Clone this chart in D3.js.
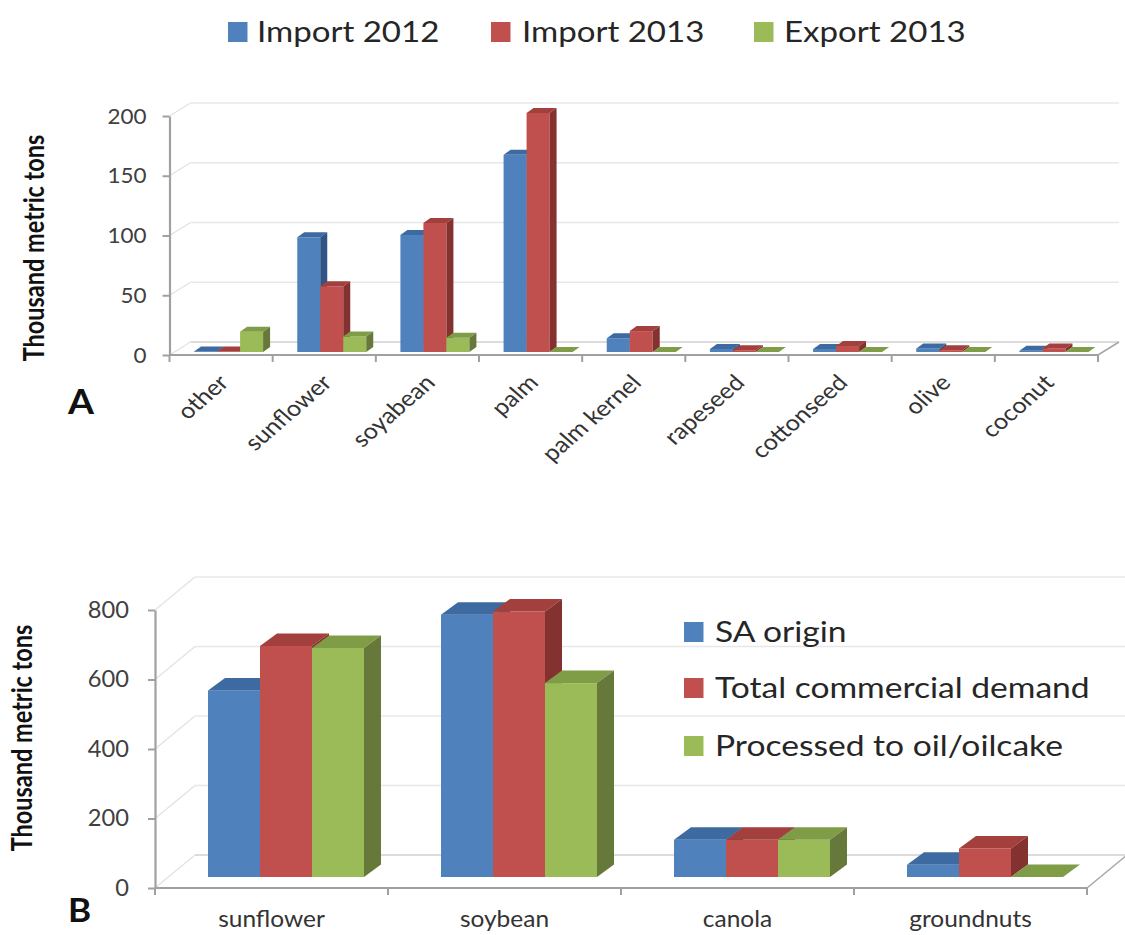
<!DOCTYPE html>
<html>
<head>
<meta charset="utf-8">
<script src="https://cdn.jsdelivr.net/npm/d3@7"></script>
<style>
  body { margin: 0; background: #fff; }
</style>
</head>
<body>
<svg id="chart" width="1125" height="935"></svg>
<script>
// ---- Panel A: vegetable oil trade (thousand metric tons) ----
const oilTypes   = ["other", "sunflower", "soyabean", "palm", "palm kernel", "rapeseed", "cottonseed", "olive", "coconut"];
const import2012 = [0.5, 96, 98, 165, 11.5, 2.5, 2.5, 3, 1];
const import2013 = [0.5, 55, 108, 200, 17.5, 1.5, 5, 1.5, 3];
const export2013 = [17, 13, 12, 0, 0, 0, 0, 0, 0];
const seriesA    = ["Import 2012", "Import 2013", "Export 2013"];
const ticksA     = [0, 50, 100, 150, 200];

// ---- Panel B: oilseed supply and use (thousand metric tons) ----
const seedTypes   = ["sunflower", "soybean", "canola", "groundnuts"];
const saOrigin    = [537, 755, 107, 35];
const totalDemand = [665, 764, 107, 82];
const processed   = [659, 558, 107, 0];
const seriesB     = ["SA origin", "Total commercial demand", "Processed to oil/oilcake"];
const ticksB      = [0, 200, 400, 600, 800];

const yTitle = "Thousand  metric tons";

const svg = d3.select("#chart");
svg.append("rect").attr("width", 1125).attr("height", 935).attr("fill", "#fff");

// front / top / side shades of each series colour
const shades = [
  { front: "#4F81BD", top: "#3D6AA1", side: "#2E5585" },
  { front: "#C0504D", top: "#A33F3C", side: "#843230" },
  { front: "#9BBB59", top: "#7F9C46", side: "#66793A" }
];
const FONT = "Lato, 'Open Sans', sans-serif";

function addText(g, str, x, y, o) {
  const t = g.append("text").text(str)
    .attr("transform", `translate(${x},${y}) scale(${o.sx || 1},1)` + (o.rot ? ` rotate(${o.rot})` : ""))
    .attr("font-family", FONT)
    .attr("font-size", o.size)
    .attr("fill", o.fill || "#262626")
    .attr("text-anchor", o.anchor || "start");
  if (o.bold) t.attr("font-weight", 700);
  if (o.dy) t.attr("dy", o.dy);
  return t;
}

function drawPanel(p) {
  const g = svg.append("g");
  const vmax = d3.max(p.ticks);
  const yAx  = d3.scaleLinear().domain([0, vmax]).range([p.zeroY, p.topY]);
  const yBar = d3.scaleLinear().domain([0, vmax]).range([p.baseY, p.baseY - (p.zeroY - p.topY)]);
  const x     = d3.scaleBand().domain(p.categories).range([p.x0, p.x1]);
  const inner = d3.scaleBand().domain(p.series).range([0, p.barW * p.series.length]);
  const [fdx, fdy] = p.floor;
  const [bdx, bdy] = p.depth;

  // side wall guide lines
  g.append("g").selectAll("line").data(p.ticks).join("line")
    .attr("x1", p.x0).attr("y1", d => yAx(d))
    .attr("x2", p.x0 + fdx).attr("y2", d => yAx(d) + fdy)
    .attr("stroke", "#e2e2e2").attr("stroke-width", 1.2);

  // back wall gridlines
  g.append("g").selectAll("line").data(p.ticks).join("line")
    .attr("x1", p.x0 + fdx).attr("x2", p.x1 + fdx)
    .attr("y1", d => yAx(d) + fdy).attr("y2", d => yAx(d) + fdy)
    .attr("stroke", d => d === 0 ? "#d0d0d0" : "#e8e8e8").attr("stroke-width", 1.5);

  // floor right edge
  g.append("line")
    .attr("x1", p.x1).attr("y1", yAx(0)).attr("x2", p.x1 + fdx).attr("y2", yAx(0) + fdy)
    .attr("stroke", "#a6a6a6").attr("stroke-width", 1.5);

  // floor front edge with category boundary ticks
  g.append("line")
    .attr("x1", p.x0).attr("x2", p.x1).attr("y1", yAx(0)).attr("y2", yAx(0))
    .attr("stroke", "#a0a0a0").attr("stroke-width", 2.2);
  const bounds = p.categories.map(c => x(c)).concat([p.x1]);
  g.append("g").selectAll("line").data(bounds).join("line")
    .attr("x1", d => d).attr("x2", d => d)
    .attr("y1", yAx(0)).attr("y2", yAx(0) + 7)
    .attr("stroke", "#a0a0a0").attr("stroke-width", 2);

  // value axis
  const axis = d3.axisLeft(yAx).tickValues(p.ticks).tickSize(7).tickSizeOuter(0).tickPadding(p.pad);
  const ag = g.append("g").attr("transform", `translate(${p.x0},0)`).call(axis);
  ag.select(".domain").attr("stroke", "#a0a0a0").attr("stroke-width", 2.2);
  ag.selectAll(".tick line").attr("stroke", "#a0a0a0").attr("stroke-width", 2);
  ag.selectAll(".tick text")
    .attr("font-family", FONT).attr("font-size", p.tickSize).attr("fill", "#404040")
    .attr("transform", `translate(${-(7 + p.pad)},0) scale(${p.tickSx},1)`)
    .attr("x", 0);

  // 3-D columns
  const recs = p.categories.flatMap((c, ci) =>
    p.series.map((s, si) => ({ c, s, si, v: p.values[si][ci] })));
  const gap = (x.bandwidth() - p.barW * p.series.length) / 2 + p.shift;
  const bars = g.append("g").selectAll("g").data(recs).join("g");
  const bx = d => x(d.c) + gap + inner(d.s);
  const w = inner.bandwidth();
  bars.append("rect")
    .attr("x", bx).attr("y", d => yBar(d.v))
    .attr("width", w).attr("height", d => p.baseY - yBar(d.v))
    .attr("fill", d => shades[d.si].front);
  bars.append("path")
    .attr("d", d => {
      const x0 = bx(d), y0 = yBar(d.v);
      return `M${x0},${y0}L${x0 + w},${y0}L${x0 + w + bdx},${y0 + bdy}L${x0 + bdx},${y0 + bdy}Z`;
    })
    .attr("fill", d => shades[d.si].top);
  bars.append("path")
    .attr("d", d => {
      const x0 = bx(d) + w, y0 = yBar(d.v);
      return `M${x0},${y0}L${x0 + bdx},${y0 + bdy}L${x0 + bdx},${p.baseY + bdy}L${x0},${p.baseY}Z`;
    })
    .attr("fill", d => shades[d.si].side);

  return { g, x };
}

// ---------- Panel A ----------
const A = drawPanel({
  categories: oilTypes, series: seriesA, values: [import2012, import2013, export2013],
  ticks: ticksA, x0: 169.5, x1: 1098, zeroY: 355, topY: 116, baseY: 352,
  floor: [21, -13], depth: [7, -5], barW: 23, shift: 7.5,
  pad: 16, tickSize: 22, tickSx: 1.02
});
oilTypes.forEach(c => {
  addText(A.g, c, A.x(c) + A.x.bandwidth() / 2 + 9, 384,
    { size: 22, sx: 1.15, rot: -45, anchor: "end", fill: "#333" });
});
addText(svg, yTitle, 44, 248, { size: 23.5, sx: 1.2, rot: -90, anchor: "middle", bold: true, fill: "#111" });
addText(svg, "A", 68, 414, { size: 34, sx: 1.1, bold: true, fill: "#111" });

// legend A
const legA = [[228, 257], [491, 522], [754, 784]];
seriesA.forEach((s, i) => {
  svg.append("rect").attr("x", legA[i][0]).attr("y", 22).attr("width", 19.5).attr("height", 20)
    .attr("fill", shades[i].front);
  addText(svg, s, legA[i][1], 42, { size: 28, sx: 1.18, fill: "#262626" });
});

// ---------- Panel B ----------
const B = drawPanel({
  categories: seedTypes, series: seriesB, values: [saOrigin, totalDemand, processed],
  ticks: ticksB, x0: 155, x1: 1087, zeroY: 888, topY: 610, baseY: 877,
  floor: [40, -33], depth: [17, -12.5], barW: 52, shift: 14.5,
  pad: 19, tickSize: 23, tickSx: 1.03
});
seedTypes.forEach(c => {
  addText(B.g, c, B.x(c) + B.x.bandwidth() / 2, 927,
    { size: 24, sx: 1.02, anchor: "middle", fill: "#333" });
});
addText(svg, yTitle, 32, 738, { size: 23.5, sx: 1.2, rot: -90, anchor: "middle", bold: true, fill: "#111" });
addText(svg, "B", 68, 922, { size: 32, sx: 1.1, bold: true, fill: "#111" });

// legend B
const legBy = [622, 678, 736];
seriesB.forEach((s, i) => {
  svg.append("rect").attr("x", 684).attr("y", legBy[i]).attr("width", 19.5).attr("height", 20)
    .attr("fill", shades[i].front);
  addText(svg, s, 715, legBy[i] + 20, { size: 28, sx: 1.2, fill: "#262626" });
});
</script>
</body>
</html>
